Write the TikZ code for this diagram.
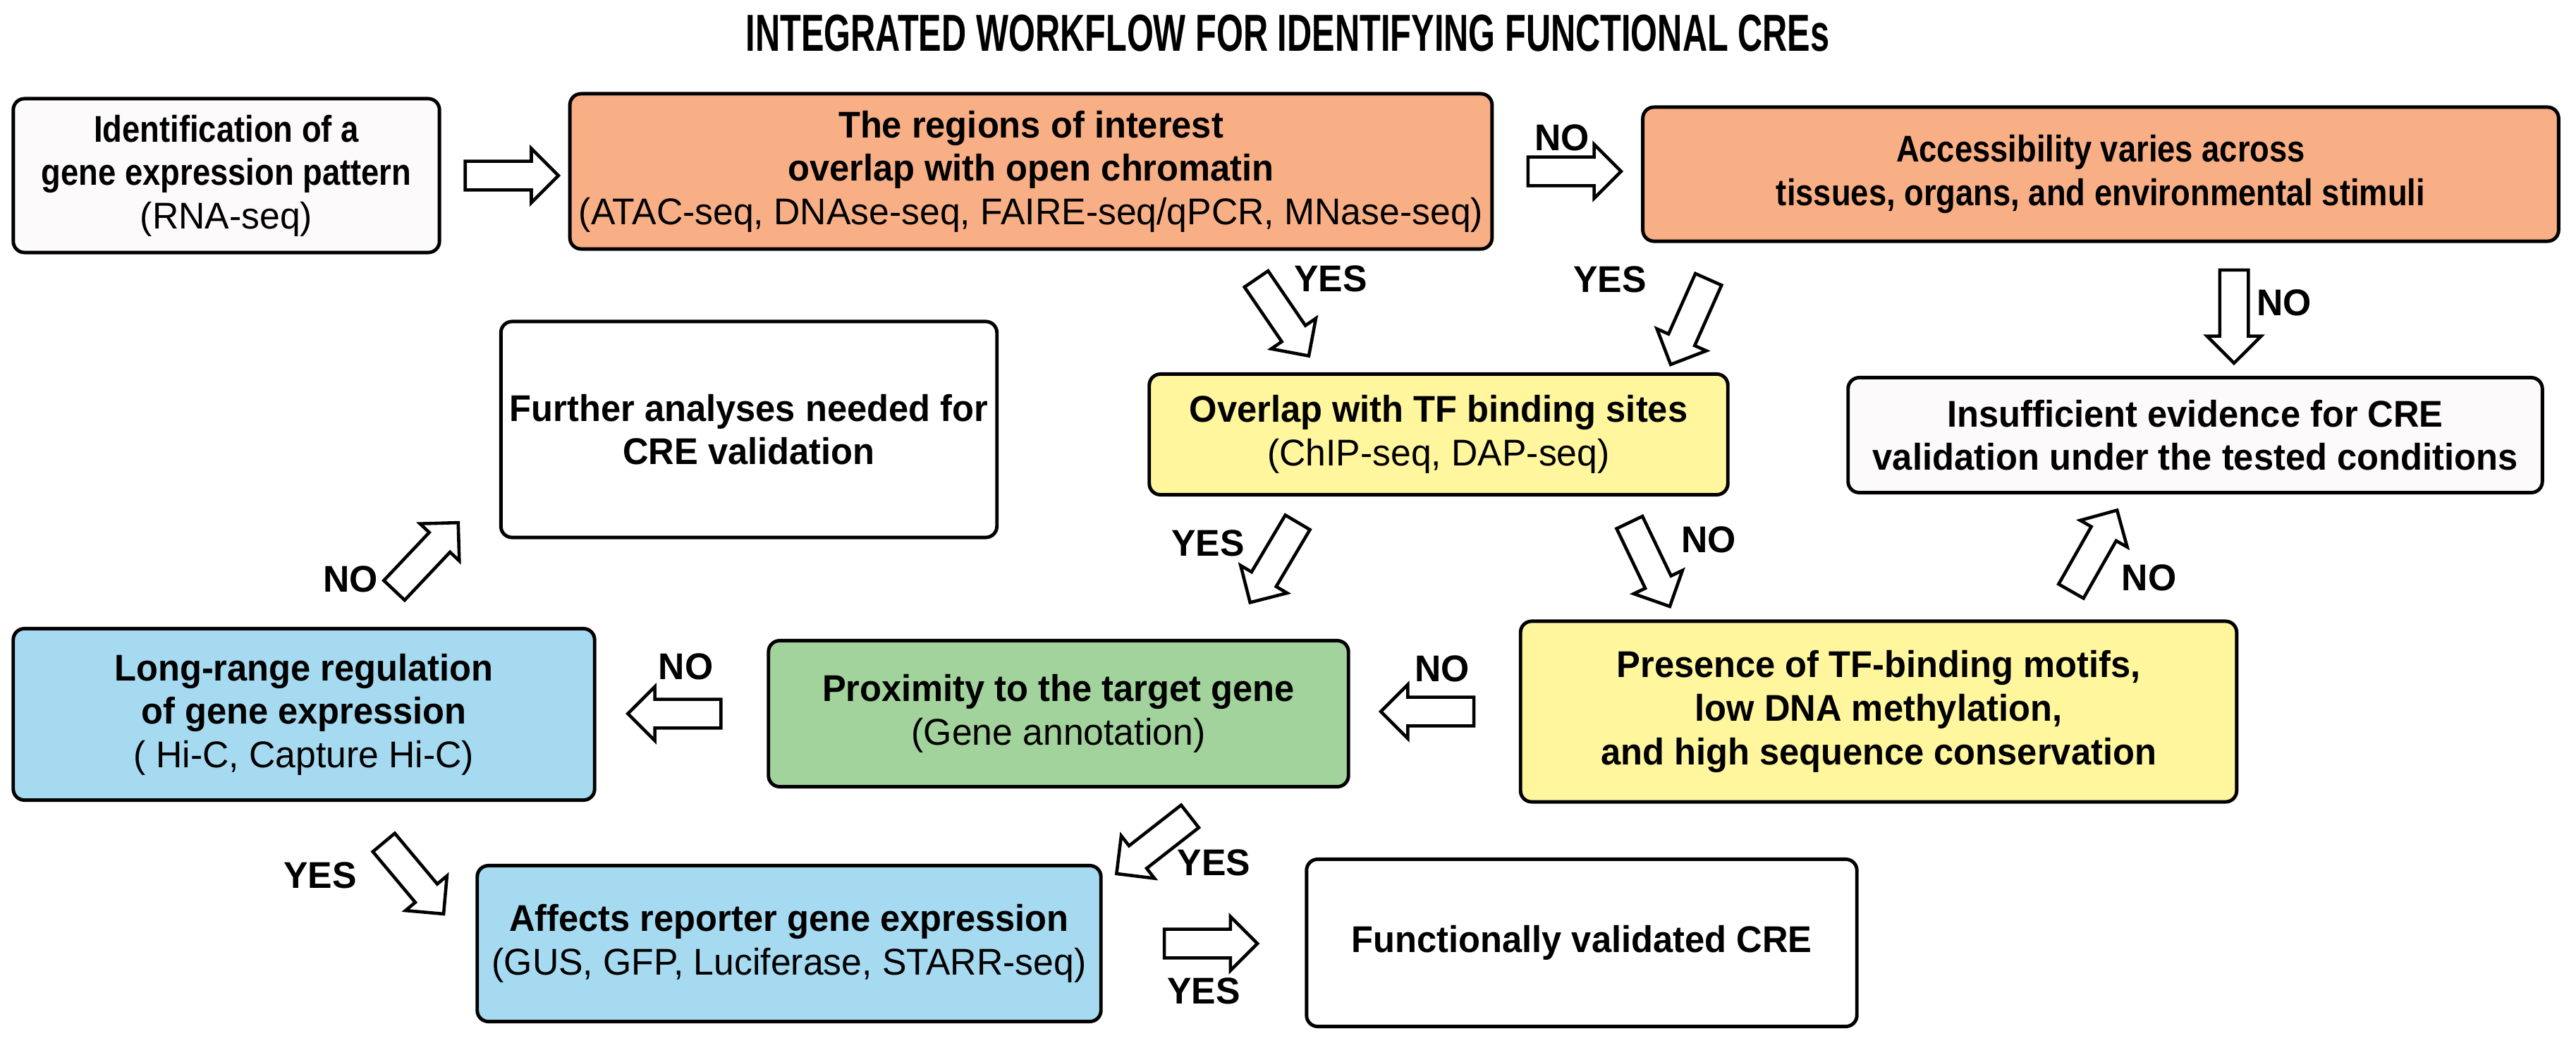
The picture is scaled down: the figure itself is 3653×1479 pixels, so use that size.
\documentclass[tikz,border=0pt]{standalone}
\usepackage{fontspec}
\setmainfont[FakeStretch=0.96]{Liberation Sans}
\newfontfamily\narrowfont[FakeStretch=0.86]{Liberation Sans}
\newfontfamily\assayfont[FakeStretch=0.98]{Liberation Sans}
\newfontfamily\titlefont[FakeStretch=0.66]{Liberation Sans}
\usepackage{tikz}
\usetikzlibrary{shapes.arrows, positioning, calc}
\definecolor{creorange}{HTML}{F9AF85}
\definecolor{creyellow}{HTML}{FFF69E}
\definecolor{cregreen}{HTML}{A2D39C}
\definecolor{creblue}{HTML}{A5DAF0}
\definecolor{crewhite}{HTML}{FCFAFB}
\newcommand{\stagefont}{\fontsize{15}{17.5}\selectfont\bfseries}
\newcommand{\assay}[1]{{\assayfont\mdseries #1}}

\begin{document}
\begin{tikzpicture}[
    x=0.01cm, y=-0.01cm,
    stage/.style={rectangle, rounded corners=4.5pt, draw=black, line width=1.4pt, align=center, inner sep=0pt, font=\stagefont},
    narrow/.style={font=\narrowfont\stagefont},
    flow/.style={single arrow, draw=black, fill=white, line width=1.3pt, minimum height=1.32cm, minimum width=0.72cm, single arrow head extend=0.18cm, inner xsep=0pt, inner ysep=0.18cm, sloped, allow upside down},
    tag/.style={font=\assayfont\stagefont},
    title/.style={font=\titlefont\fontsize{21}{24}\selectfont\bfseries}
]
\useasboundingbox (0,0) rectangle (3653,1479);

\node[title] (head) at (1826,47) {INTEGRATED WORKFLOW FOR IDENTIFYING FUNCTIONAL CREs};

% first row
\node[stage, narrow, fill=crewhite, minimum width=6.04cm, minimum height=2.18cm] (pattern) at (321,249) {Identification of a\\gene expression pattern\\\assay{(RNA-seq)}};
\node[stage, fill=creorange, minimum width=13.07cm, minimum height=2.20cm] (chromatin) at (1462,243) {The regions of interest\\overlap with open chromatin\\\assay{(ATAC-seq, DNAse-seq, FAIRE-seq/qPCR, MNase-seq)}};
\node[stage, narrow, fill=creorange, minimum width=12.98cm, minimum height=1.90cm] (variable) at (2979,247) {Accessibility varies across\\tissues, organs, and environmental stimuli};

% second row
\node[stage, fill=white, minimum width=7.03cm, minimum height=3.06cm] (further) at (1062,609) {Further analyses needed for\\CRE validation};
\node[stage, fill=creyellow, minimum width=8.20cm, minimum height=1.71cm] (tfsites) at (2040,616) {Overlap with TF binding sites\\\assay{(ChIP-seq, DAP-seq)}};
\node[stage, fill=crewhite, minimum width=9.84cm, minimum height=1.63cm] (noevidence) at (3113,617) {Insufficient evidence for CRE\\validation under the tested conditions};

% third row
\node[stage, fill=creblue, minimum width=8.24cm, minimum height=2.43cm] (longrange) at (431,1013) {Long-range regulation\\of gene expression\\\assay{( Hi-C, Capture Hi-C)}};
\node[stage, fill=cregreen, minimum width=8.22cm, minimum height=2.07cm] (proximity) at (1501,1012) {Proximity to the target gene\\\assay{(Gene annotation)}};
\node[stage, fill=creyellow, minimum width=10.15cm, minimum height=2.56cm] (motifs) at (2664,1009) {Presence of TF-binding motifs,\\low DNA methylation,\\and high sequence conservation};

% last row
\node[stage, fill=creblue, minimum width=8.84cm, minimum height=2.21cm] (reporter) at (1119,1338) {Affects reporter gene expression\\\assay{(GUS, GFP, Luciferase, STARR-seq)}};
\node[stage, fill=white, minimum width=7.80cm, minimum height=2.37cm] (validated) at (2243,1337) {Functionally validated CRE};

% block arrows
\path (pattern.east) -- node[flow] {} (pattern.east -| chromatin.west);
\path (chromatin.east) -- node[flow] {} node[tag, shift={(-8,-48)}] {NO} (chromatin.east -| variable.west);
\path ([xshift=2.92cm]chromatin.south) -- node[flow] {} node[tag, shift={(74,-46)}] {YES} ([xshift=-1.68cm]tfsites.north);
\path ([xshift=-5.33cm]variable.south) -- node[flow, pos=0.56] {} node[tag, shift={(-122,-40)}] {YES} ([xshift=3.24cm]tfsites.north);
\path ([xshift=1.89cm]variable.south) -- node[flow] {} node[tag, shift={(71,-9)}] {NO} ([xshift=0.55cm]noevidence.north);
\path ([xshift=-1.78cm]tfsites.south) -- node[flow, pos=0.42] {} node[tag, shift={(-89,-35)}] {YES} ([xshift=2.41cm]proximity.north);
\path ([xshift=2.53cm]tfsites.south) -- node[flow] {} node[tag, shift={(88,-26)}] {NO} ([xshift=-2.87cm]motifs.north);
\path ([xshift=2.50cm]motifs.north) -- node[flow] {} node[tag, shift={(83,30)}] {NO} ([xshift=-0.98cm]noevidence.south);
\path (motifs.west) -- node[flow] {} node[tag, shift={(11,-61)}] {NO} (motifs.west -| proximity.east);
\path (proximity.west) -- node[flow] {} node[tag, shift={(6,-67)}] {NO} (proximity.west -| longrange.east);
\path ([xshift=0.79cm]longrange.north) -- node[flow] {} node[tag, shift={(-100,25)}] {NO} ([shift={(-23,95)}]further.west);
\path ([xshift=0.65cm]longrange.south) -- node[flow] {} node[tag, shift={(-126,4)}] {YES} ([xshift=-0.10cm]reporter.west);
\path ([xshift=2.37cm]proximity.south) -- node[flow] {} node[tag, shift={(78,31)}] {YES} ([shift={(-15,-72)}]reporter.east);
\path (reporter.east) -- node[flow] {} node[tag, shift={(0,67)}] {YES} (reporter.east -| validated.west);

\end{tikzpicture}
\end{document}
